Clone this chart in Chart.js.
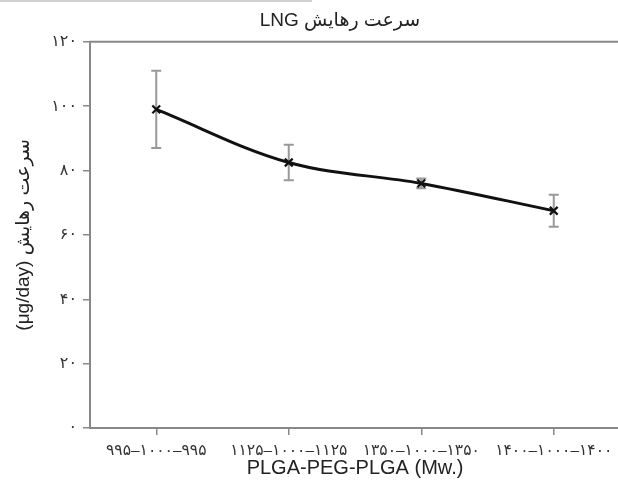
<!DOCTYPE html>
<html><head><meta charset="utf-8">
<script src="https://cdn.jsdelivr.net/npm/chart.js@4"></script>
<style>
html,body{margin:0;padding:0;background:#fff;overflow:hidden;width:618px;height:495px}
#wrap{position:relative;width:630px;height:495px}
#topline{position:absolute;left:0;top:0;width:312px;height:0;border-top:2px solid #d0d0d0}
canvas{direction:rtl}
</style></head><body>
<div id="wrap"><canvas id="c" width="630" height="495" dir="rtl"></canvas><div id="topline"></div></div>
<script>
const categories = ['۹۹۵–۱۰۰۰–۹۹۵','۱۱۲۵–۱۰۰۰–۱۱۲۵','۱۳۵۰–۱۰۰۰–۱۳۵۰','۱۴۰۰–۱۰۰۰–۱۴۰۰'];
const releaseRate = [99, 82.5, 76, 67.5];
const releaseErr = [12, 5.5, 1.5, 5];
const yTickLabels = ['۰','۲۰','۴۰','۶۰','۸۰','۱۰۰','۱۲۰'];
const chartTitle = 'سرعت رهایش LNG';
const yTitle = 'سرعت رهایش (μg/day)';
const xTitle = 'PLGA-PEG-PLGA (Mw.)';

const FONT = "'Liberation Sans', 'DejaVu Sans', Arial, sans-serif";

const errorBars = {
  id: 'errorBars',
  beforeDatasetsDraw(chart) {
    const ctx = chart.ctx, y = chart.scales.y;
    const meta = chart.getDatasetMeta(0);
    ctx.save();
    ctx.strokeStyle = '#999';
    ctx.lineWidth = 2;
    meta.data.forEach((pt, i) => {
      const v = releaseRate[i], e = releaseErr[i];
      const yt = y.getPixelForValue(v + e), yb = y.getPixelForValue(v - e);
      ctx.beginPath();
      ctx.moveTo(pt.x, yt); ctx.lineTo(pt.x, yb);
      ctx.moveTo(pt.x - 5, yt); ctx.lineTo(pt.x + 5, yt);
      ctx.moveTo(pt.x - 5, yb); ctx.lineTo(pt.x + 5, yb);
      ctx.stroke();
    });
    ctx.restore();
  }
};
const topBorder = {
  id: 'topBorder',
  afterLayout(chart) {
    if (chart.titleBlock) chart.titleBlock.left = 60;
  },
  afterDraw(chart) {
    const a = chart.chartArea, ctx = chart.ctx;
    ctx.save();
    ctx.strokeStyle = '#888';
    ctx.lineWidth = 2;
    ctx.beginPath();
    ctx.moveTo(a.left - 1, a.top); ctx.lineTo(chart.width, a.top);
    ctx.stroke();
    ctx.restore();
  }
};

new Chart(document.getElementById('c'), {
  type: 'line',
  data: {
    labels: categories,
    datasets: [{
      data: releaseRate,
      borderColor: '#111',
      borderWidth: 3,
      tension: 0.35,
      pointStyle: 'crossRot',
      pointRadius: 5.5,
      pointBorderWidth: 2.2,
      pointBorderColor: '#111',
      fill: false
    }]
  },
  options: {
    responsive: false,
    animation: false,
    layout: { padding: { left: 0, right: 10, top: 0, bottom: 0 } },
    plugins: {
      legend: { display: false },
      tooltip: { enabled: false },
      title: {
        display: true,
        text: chartTitle,
        color: '#222',
        font: { family: FONT, size: 19, weight: 'normal' },
        padding: { top: 9, bottom: 10 }
      }
    },
    scales: {
      x: {
        offset: true,
        grid: { drawOnChartArea: false, drawTicks: true, tickLength: 7, color: '#888', lineWidth: 1.5, offset: false },
        border: { color: '#888', width: 2 },
        ticks: { color: '#333', font: { family: FONT, size: 15.5 }, padding: 6, maxRotation: 0, autoSkip: false },
        title: { display: true, text: xTitle, color: '#222', font: { family: FONT, size: 20 }, padding: { top: 0, bottom: 15 } },
        afterFit(s) { s.height = 67; }
      },
      y: {
        min: 0, max: 120,
        ticks: { stepSize: 20, color: '#333', font: { family: FONT, size: 16 }, padding: 6,
          callback: (v, i) => yTickLabels[i] },
        grid: { drawOnChartArea: false, drawTicks: true, tickLength: 7, color: '#888', lineWidth: 1.5 },
        border: { color: '#888', width: 2 },
        title: { display: true, text: yTitle, color: '#222', font: { family: FONT, size: 19 }, padding: { top: 12, bottom: 0 } },
        afterFit(s) { s.width = 90; }
      }
    }
  },
  plugins: [errorBars, topBorder]
});
</script>
</body></html>
